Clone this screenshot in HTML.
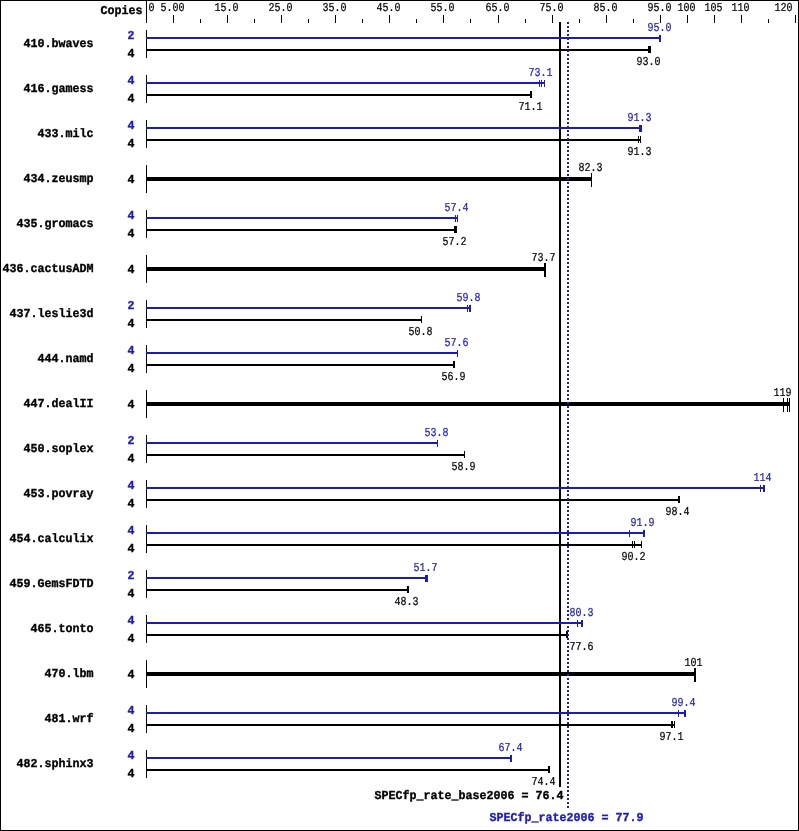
<!DOCTYPE html>
<html><head><meta charset="utf-8"><title>SPECfp_rate2006 chart</title>
<style>
html,body{margin:0;padding:0;background:#fff;width:799px;height:831px;overflow:hidden}
svg{display:block;will-change:transform}
text{font-family:"Liberation Mono",monospace;font-size:12.15px;white-space:pre;text-rendering:geometricPrecision}
.b{font-weight:bold}
</style></head><body>
<svg width="799" height="831" viewBox="0 0 799 831">
<rect width="799" height="831" fill="#fff"/>
<path shape-rendering="crispEdges" fill="#000" d="M0 0h799v1h-799zM0 830h799v1h-799zM0 0h1v831h-1zM798 0h1v831h-1zM146 0h1v23h-1zM173 15h1v8h-1zM200 19h1v4h-1zM227 15h1v8h-1zM254 19h1v4h-1zM281 15h1v8h-1zM308 19h1v4h-1zM335 15h1v8h-1zM362 19h1v4h-1zM389 15h1v8h-1zM416 19h1v4h-1zM443 15h1v8h-1zM470 19h1v4h-1zM498 15h1v8h-1zM525 19h1v4h-1zM552 15h1v8h-1zM579 19h1v4h-1zM606 15h1v8h-1zM633 19h1v4h-1zM660 15h1v8h-1zM687 15h1v8h-1zM714 15h1v8h-1zM741 15h1v8h-1zM768 19h1v4h-1zM795 15h1v8h-1zM146 30h1v28h-1zM146 49h505v2h-505zM648 46h1v7h-1zM649 46h1v7h-1zM650 46h1v7h-1zM146 75h1v28h-1zM146 94h386v2h-386zM530 91h1v7h-1zM531 91h1v7h-1zM146 120h1v28h-1zM146 139h495v2h-495zM638 136h1v7h-1zM640 136h1v7h-1zM146 165h1v28h-1zM146 177h446v4h-446zM591 173h1v14h-1zM146 210h1v28h-1zM146 229h311v2h-311zM454 226h1v7h-1zM455 226h1v7h-1zM456 226h1v7h-1zM146 255h1v28h-1zM146 267h400v4h-400zM544 263h1v14h-1zM545 263h1v14h-1zM146 300h1v28h-1zM146 319h276v2h-276zM421 316h1v7h-1zM146 345h1v28h-1zM146 364h309v2h-309zM453 361h1v7h-1zM454 361h1v7h-1zM146 390h1v28h-1zM146 402h644v4h-644zM783 398h1v14h-1zM787 398h1v14h-1zM789 398h1v14h-1zM146 435h1v28h-1zM146 454h319v2h-319zM464 451h1v7h-1zM146 480h1v28h-1zM146 499h534v2h-534zM678 496h1v7h-1zM679 496h1v7h-1zM146 525h1v28h-1zM146 544h496v2h-496zM632 541h1v7h-1zM634 541h1v7h-1zM641 541h1v7h-1zM146 570h1v28h-1zM146 589h263v2h-263zM407 586h1v7h-1zM408 586h1v7h-1zM146 615h1v28h-1zM146 634h422v2h-422zM566 631h1v7h-1zM567 631h1v7h-1zM146 660h1v28h-1zM146 672h550v4h-550zM694 668h1v14h-1zM695 668h1v14h-1zM146 705h1v28h-1zM146 724h529v2h-529zM671 721h1v7h-1zM672 721h1v7h-1zM674 721h1v7h-1zM146 750h1v28h-1zM146 769h404v2h-404zM548 766h1v7h-1zM549 766h1v7h-1zM559 22h2v765h-2z"/>
<path shape-rendering="crispEdges" fill="#1c1cb0" d="M146 37h515v2h-515zM659 35h1v7h-1zM660 35h1v7h-1zM146 82h399v2h-399zM539 80h1v7h-1zM541 80h1v7h-1zM544 80h1v7h-1zM146 127h496v2h-496zM639 125h1v7h-1zM640 125h1v7h-1zM641 125h1v7h-1zM146 217h312v2h-312zM455 215h1v7h-1zM457 215h1v7h-1zM146 307h325v2h-325zM467 305h1v7h-1zM469 305h1v7h-1zM470 305h1v7h-1zM146 352h312v2h-312zM457 350h1v7h-1zM146 442h292v2h-292zM437 440h1v7h-1zM146 487h619v2h-619zM760 485h1v7h-1zM763 485h1v7h-1zM764 485h1v7h-1zM146 532h499v2h-499zM629 530h1v7h-1zM643 530h1v7h-1zM644 530h1v7h-1zM146 577h282v2h-282zM425 575h1v7h-1zM426 575h1v7h-1zM427 575h1v7h-1zM146 622h437v2h-437zM577 620h1v7h-1zM581 620h1v7h-1zM582 620h1v7h-1zM146 712h540v2h-540zM678 710h1v7h-1zM684 710h1v7h-1zM685 710h1v7h-1zM146 757h366v2h-366zM510 755h1v7h-1zM511 755h1v7h-1z"/>
<path shape-rendering="crispEdges" fill="#1c1cb0" d="M567 22h2v2h-2zM567 26h2v2h-2zM567 30h2v2h-2zM567 34h2v2h-2zM567 38h2v2h-2zM567 42h2v2h-2zM567 46h2v2h-2zM567 50h2v2h-2zM567 54h2v2h-2zM567 58h2v2h-2zM567 62h2v2h-2zM567 66h2v2h-2zM567 70h2v2h-2zM567 74h2v2h-2zM567 78h2v2h-2zM567 82h2v2h-2zM567 86h2v2h-2zM567 90h2v2h-2zM567 94h2v2h-2zM567 98h2v2h-2zM567 102h2v2h-2zM567 106h2v2h-2zM567 110h2v2h-2zM567 114h2v2h-2zM567 118h2v2h-2zM567 122h2v2h-2zM567 126h2v2h-2zM567 130h2v2h-2zM567 134h2v2h-2zM567 138h2v2h-2zM567 142h2v2h-2zM567 146h2v2h-2zM567 150h2v2h-2zM567 154h2v2h-2zM567 158h2v2h-2zM567 162h2v2h-2zM567 166h2v2h-2zM567 170h2v2h-2zM567 174h2v2h-2zM567 178h2v2h-2zM567 182h2v2h-2zM567 186h2v2h-2zM567 190h2v2h-2zM567 194h2v2h-2zM567 198h2v2h-2zM567 202h2v2h-2zM567 206h2v2h-2zM567 210h2v2h-2zM567 214h2v2h-2zM567 218h2v2h-2zM567 222h2v2h-2zM567 226h2v2h-2zM567 230h2v2h-2zM567 234h2v2h-2zM567 238h2v2h-2zM567 242h2v2h-2zM567 246h2v2h-2zM567 250h2v2h-2zM567 254h2v2h-2zM567 258h2v2h-2zM567 262h2v2h-2zM567 266h2v2h-2zM567 270h2v2h-2zM567 274h2v2h-2zM567 278h2v2h-2zM567 282h2v2h-2zM567 286h2v2h-2zM567 290h2v2h-2zM567 294h2v2h-2zM567 298h2v2h-2zM567 302h2v2h-2zM567 306h2v2h-2zM567 310h2v2h-2zM567 314h2v2h-2zM567 318h2v2h-2zM567 322h2v2h-2zM567 326h2v2h-2zM567 330h2v2h-2zM567 334h2v2h-2zM567 338h2v2h-2zM567 342h2v2h-2zM567 346h2v2h-2zM567 350h2v2h-2zM567 354h2v2h-2zM567 358h2v2h-2zM567 362h2v2h-2zM567 366h2v2h-2zM567 370h2v2h-2zM567 374h2v2h-2zM567 378h2v2h-2zM567 382h2v2h-2zM567 386h2v2h-2zM567 390h2v2h-2zM567 394h2v2h-2zM567 398h2v2h-2zM567 402h2v2h-2zM567 406h2v2h-2zM567 410h2v2h-2zM567 414h2v2h-2zM567 418h2v2h-2zM567 422h2v2h-2zM567 426h2v2h-2zM567 430h2v2h-2zM567 434h2v2h-2zM567 438h2v2h-2zM567 442h2v2h-2zM567 446h2v2h-2zM567 450h2v2h-2zM567 454h2v2h-2zM567 458h2v2h-2zM567 462h2v2h-2zM567 466h2v2h-2zM567 470h2v2h-2zM567 474h2v2h-2zM567 478h2v2h-2zM567 482h2v2h-2zM567 486h2v2h-2zM567 490h2v2h-2zM567 494h2v2h-2zM567 498h2v2h-2zM567 502h2v2h-2zM567 506h2v2h-2zM567 510h2v2h-2zM567 514h2v2h-2zM567 518h2v2h-2zM567 522h2v2h-2zM567 526h2v2h-2zM567 530h2v2h-2zM567 534h2v2h-2zM567 538h2v2h-2zM567 542h2v2h-2zM567 546h2v2h-2zM567 550h2v2h-2zM567 554h2v2h-2zM567 558h2v2h-2zM567 562h2v2h-2zM567 566h2v2h-2zM567 570h2v2h-2zM567 574h2v2h-2zM567 578h2v2h-2zM567 582h2v2h-2zM567 586h2v2h-2zM567 590h2v2h-2zM567 594h2v2h-2zM567 598h2v2h-2zM567 602h2v2h-2zM567 606h2v2h-2zM567 610h2v2h-2zM567 614h2v2h-2zM567 618h2v2h-2zM567 622h2v2h-2zM567 626h2v2h-2zM567 630h2v2h-2zM567 634h2v2h-2zM567 638h2v2h-2zM567 642h2v2h-2zM567 646h2v2h-2zM567 650h2v2h-2zM567 654h2v2h-2zM567 658h2v2h-2zM567 662h2v2h-2zM567 666h2v2h-2zM567 670h2v2h-2zM567 674h2v2h-2zM567 678h2v2h-2zM567 682h2v2h-2zM567 686h2v2h-2zM567 690h2v2h-2zM567 694h2v2h-2zM567 698h2v2h-2zM567 702h2v2h-2zM567 706h2v2h-2zM567 710h2v2h-2zM567 714h2v2h-2zM567 718h2v2h-2zM567 722h2v2h-2zM567 726h2v2h-2zM567 730h2v2h-2zM567 734h2v2h-2zM567 738h2v2h-2zM567 742h2v2h-2zM567 746h2v2h-2zM567 750h2v2h-2zM567 754h2v2h-2zM567 758h2v2h-2zM567 762h2v2h-2zM567 766h2v2h-2zM567 770h2v2h-2zM567 774h2v2h-2zM567 778h2v2h-2zM567 782h2v2h-2zM567 786h2v2h-2zM567 790h2v2h-2zM567 794h2v2h-2zM567 798h2v2h-2zM567 802h2v2h-2zM567 806h2v2h-2z"/>
<text x="148.60" y="11" textLength="6" lengthAdjust="spacingAndGlyphs" stroke="#000" stroke-width="0.22">0</text>
<text x="160.60" y="11" textLength="24" lengthAdjust="spacingAndGlyphs" stroke="#000" stroke-width="0.22">5.00</text>
<text x="214.60" y="11" textLength="24" lengthAdjust="spacingAndGlyphs" stroke="#000" stroke-width="0.22">15.0</text>
<text x="268.60" y="11" textLength="24" lengthAdjust="spacingAndGlyphs" stroke="#000" stroke-width="0.22">25.0</text>
<text x="322.60" y="11" textLength="24" lengthAdjust="spacingAndGlyphs" stroke="#000" stroke-width="0.22">35.0</text>
<text x="376.60" y="11" textLength="24" lengthAdjust="spacingAndGlyphs" stroke="#000" stroke-width="0.22">45.0</text>
<text x="430.60" y="11" textLength="24" lengthAdjust="spacingAndGlyphs" stroke="#000" stroke-width="0.22">55.0</text>
<text x="485.60" y="11" textLength="24" lengthAdjust="spacingAndGlyphs" stroke="#000" stroke-width="0.22">65.0</text>
<text x="539.60" y="11" textLength="24" lengthAdjust="spacingAndGlyphs" stroke="#000" stroke-width="0.22">75.0</text>
<text x="593.60" y="11" textLength="24" lengthAdjust="spacingAndGlyphs" stroke="#000" stroke-width="0.22">85.0</text>
<text x="647.60" y="11" textLength="24" lengthAdjust="spacingAndGlyphs" stroke="#000" stroke-width="0.22">95.0</text>
<text x="677.60" y="11" textLength="18" lengthAdjust="spacingAndGlyphs" stroke="#000" stroke-width="0.22">100</text>
<text x="704.60" y="11" textLength="18" lengthAdjust="spacingAndGlyphs" stroke="#000" stroke-width="0.22">105</text>
<text x="731.60" y="11" textLength="18" lengthAdjust="spacingAndGlyphs" stroke="#000" stroke-width="0.22">110</text>
<text x="774.60" y="11" textLength="18" lengthAdjust="spacingAndGlyphs" stroke="#000" stroke-width="0.22">120</text>
<text x="100.60" y="14" textLength="42" lengthAdjust="spacingAndGlyphs" class="b" stroke="#000" stroke-width="0.35">Copies</text>
<text x="23.60" y="47" textLength="70" lengthAdjust="spacingAndGlyphs" class="b" stroke="#000" stroke-width="0.35">410.bwaves</text>
<text x="647.60" y="31" textLength="24" lengthAdjust="spacingAndGlyphs" fill="#1c1cb0" stroke="#1c1cb0" stroke-width="0.22">95.0</text>
<text x="127.60" y="39" textLength="7" lengthAdjust="spacingAndGlyphs" class="b" fill="#1c1cb0" stroke="#1c1cb0" stroke-width="0.35">2</text>
<text x="636.60" y="65" textLength="24" lengthAdjust="spacingAndGlyphs" stroke="#000" stroke-width="0.22">93.0</text>
<text x="127.60" y="57" textLength="7" lengthAdjust="spacingAndGlyphs" class="b" stroke="#000" stroke-width="0.35">4</text>
<text x="23.60" y="92" textLength="70" lengthAdjust="spacingAndGlyphs" class="b" stroke="#000" stroke-width="0.35">416.gamess</text>
<text x="528.60" y="76" textLength="24" lengthAdjust="spacingAndGlyphs" fill="#1c1cb0" stroke="#1c1cb0" stroke-width="0.22">73.1</text>
<text x="127.60" y="84" textLength="7" lengthAdjust="spacingAndGlyphs" class="b" fill="#1c1cb0" stroke="#1c1cb0" stroke-width="0.35">4</text>
<text x="518.60" y="110" textLength="24" lengthAdjust="spacingAndGlyphs" stroke="#000" stroke-width="0.22">71.1</text>
<text x="127.60" y="102" textLength="7" lengthAdjust="spacingAndGlyphs" class="b" stroke="#000" stroke-width="0.35">4</text>
<text x="37.60" y="137" textLength="56" lengthAdjust="spacingAndGlyphs" class="b" stroke="#000" stroke-width="0.35">433.milc</text>
<text x="627.60" y="121" textLength="24" lengthAdjust="spacingAndGlyphs" fill="#1c1cb0" stroke="#1c1cb0" stroke-width="0.22">91.3</text>
<text x="127.60" y="129" textLength="7" lengthAdjust="spacingAndGlyphs" class="b" fill="#1c1cb0" stroke="#1c1cb0" stroke-width="0.35">4</text>
<text x="627.60" y="155" textLength="24" lengthAdjust="spacingAndGlyphs" stroke="#000" stroke-width="0.22">91.3</text>
<text x="127.60" y="147" textLength="7" lengthAdjust="spacingAndGlyphs" class="b" stroke="#000" stroke-width="0.35">4</text>
<text x="23.60" y="182" textLength="70" lengthAdjust="spacingAndGlyphs" class="b" stroke="#000" stroke-width="0.35">434.zeusmp</text>
<text x="578.60" y="171" textLength="24" lengthAdjust="spacingAndGlyphs" stroke="#000" stroke-width="0.22">82.3</text>
<text x="127.60" y="183" textLength="7" lengthAdjust="spacingAndGlyphs" class="b" stroke="#000" stroke-width="0.35">4</text>
<text x="16.60" y="227" textLength="77" lengthAdjust="spacingAndGlyphs" class="b" stroke="#000" stroke-width="0.35">435.gromacs</text>
<text x="444.60" y="211" textLength="24" lengthAdjust="spacingAndGlyphs" fill="#1c1cb0" stroke="#1c1cb0" stroke-width="0.22">57.4</text>
<text x="127.60" y="219" textLength="7" lengthAdjust="spacingAndGlyphs" class="b" fill="#1c1cb0" stroke="#1c1cb0" stroke-width="0.35">4</text>
<text x="442.60" y="245" textLength="24" lengthAdjust="spacingAndGlyphs" stroke="#000" stroke-width="0.22">57.2</text>
<text x="127.60" y="237" textLength="7" lengthAdjust="spacingAndGlyphs" class="b" stroke="#000" stroke-width="0.35">4</text>
<text x="2.60" y="272" textLength="91" lengthAdjust="spacingAndGlyphs" class="b" stroke="#000" stroke-width="0.35">436.cactusADM</text>
<text x="531.60" y="261" textLength="24" lengthAdjust="spacingAndGlyphs" stroke="#000" stroke-width="0.22">73.7</text>
<text x="127.60" y="273" textLength="7" lengthAdjust="spacingAndGlyphs" class="b" stroke="#000" stroke-width="0.35">4</text>
<text x="9.60" y="317" textLength="84" lengthAdjust="spacingAndGlyphs" class="b" stroke="#000" stroke-width="0.35">437.leslie3d</text>
<text x="456.60" y="301" textLength="24" lengthAdjust="spacingAndGlyphs" fill="#1c1cb0" stroke="#1c1cb0" stroke-width="0.22">59.8</text>
<text x="127.60" y="309" textLength="7" lengthAdjust="spacingAndGlyphs" class="b" fill="#1c1cb0" stroke="#1c1cb0" stroke-width="0.35">2</text>
<text x="408.60" y="335" textLength="24" lengthAdjust="spacingAndGlyphs" stroke="#000" stroke-width="0.22">50.8</text>
<text x="127.60" y="327" textLength="7" lengthAdjust="spacingAndGlyphs" class="b" stroke="#000" stroke-width="0.35">4</text>
<text x="37.60" y="362" textLength="56" lengthAdjust="spacingAndGlyphs" class="b" stroke="#000" stroke-width="0.35">444.namd</text>
<text x="444.60" y="346" textLength="24" lengthAdjust="spacingAndGlyphs" fill="#1c1cb0" stroke="#1c1cb0" stroke-width="0.22">57.6</text>
<text x="127.60" y="354" textLength="7" lengthAdjust="spacingAndGlyphs" class="b" fill="#1c1cb0" stroke="#1c1cb0" stroke-width="0.35">4</text>
<text x="441.60" y="380" textLength="24" lengthAdjust="spacingAndGlyphs" stroke="#000" stroke-width="0.22">56.9</text>
<text x="127.60" y="372" textLength="7" lengthAdjust="spacingAndGlyphs" class="b" stroke="#000" stroke-width="0.35">4</text>
<text x="23.60" y="407" textLength="70" lengthAdjust="spacingAndGlyphs" class="b" stroke="#000" stroke-width="0.35">447.dealII</text>
<text x="773.60" y="396" textLength="18" lengthAdjust="spacingAndGlyphs" stroke="#000" stroke-width="0.22">119</text>
<text x="127.60" y="408" textLength="7" lengthAdjust="spacingAndGlyphs" class="b" stroke="#000" stroke-width="0.35">4</text>
<text x="23.60" y="452" textLength="70" lengthAdjust="spacingAndGlyphs" class="b" stroke="#000" stroke-width="0.35">450.soplex</text>
<text x="424.60" y="436" textLength="24" lengthAdjust="spacingAndGlyphs" fill="#1c1cb0" stroke="#1c1cb0" stroke-width="0.22">53.8</text>
<text x="127.60" y="444" textLength="7" lengthAdjust="spacingAndGlyphs" class="b" fill="#1c1cb0" stroke="#1c1cb0" stroke-width="0.35">2</text>
<text x="451.60" y="470" textLength="24" lengthAdjust="spacingAndGlyphs" stroke="#000" stroke-width="0.22">58.9</text>
<text x="127.60" y="462" textLength="7" lengthAdjust="spacingAndGlyphs" class="b" stroke="#000" stroke-width="0.35">4</text>
<text x="23.60" y="497" textLength="70" lengthAdjust="spacingAndGlyphs" class="b" stroke="#000" stroke-width="0.35">453.povray</text>
<text x="753.60" y="481" textLength="18" lengthAdjust="spacingAndGlyphs" fill="#1c1cb0" stroke="#1c1cb0" stroke-width="0.22">114</text>
<text x="127.60" y="489" textLength="7" lengthAdjust="spacingAndGlyphs" class="b" fill="#1c1cb0" stroke="#1c1cb0" stroke-width="0.35">4</text>
<text x="665.60" y="515" textLength="24" lengthAdjust="spacingAndGlyphs" stroke="#000" stroke-width="0.22">98.4</text>
<text x="127.60" y="507" textLength="7" lengthAdjust="spacingAndGlyphs" class="b" stroke="#000" stroke-width="0.35">4</text>
<text x="9.60" y="542" textLength="84" lengthAdjust="spacingAndGlyphs" class="b" stroke="#000" stroke-width="0.35">454.calculix</text>
<text x="630.60" y="526" textLength="24" lengthAdjust="spacingAndGlyphs" fill="#1c1cb0" stroke="#1c1cb0" stroke-width="0.22">91.9</text>
<text x="127.60" y="534" textLength="7" lengthAdjust="spacingAndGlyphs" class="b" fill="#1c1cb0" stroke="#1c1cb0" stroke-width="0.35">4</text>
<text x="621.60" y="560" textLength="24" lengthAdjust="spacingAndGlyphs" stroke="#000" stroke-width="0.22">90.2</text>
<text x="127.60" y="552" textLength="7" lengthAdjust="spacingAndGlyphs" class="b" stroke="#000" stroke-width="0.35">4</text>
<text x="9.60" y="587" textLength="84" lengthAdjust="spacingAndGlyphs" class="b" stroke="#000" stroke-width="0.35">459.GemsFDTD</text>
<text x="413.60" y="571" textLength="24" lengthAdjust="spacingAndGlyphs" fill="#1c1cb0" stroke="#1c1cb0" stroke-width="0.22">51.7</text>
<text x="127.60" y="579" textLength="7" lengthAdjust="spacingAndGlyphs" class="b" fill="#1c1cb0" stroke="#1c1cb0" stroke-width="0.35">2</text>
<text x="394.60" y="605" textLength="24" lengthAdjust="spacingAndGlyphs" stroke="#000" stroke-width="0.22">48.3</text>
<text x="127.60" y="597" textLength="7" lengthAdjust="spacingAndGlyphs" class="b" stroke="#000" stroke-width="0.35">4</text>
<text x="30.60" y="632" textLength="63" lengthAdjust="spacingAndGlyphs" class="b" stroke="#000" stroke-width="0.35">465.tonto</text>
<text x="569.60" y="616" textLength="24" lengthAdjust="spacingAndGlyphs" fill="#1c1cb0" stroke="#1c1cb0" stroke-width="0.22">80.3</text>
<text x="127.60" y="624" textLength="7" lengthAdjust="spacingAndGlyphs" class="b" fill="#1c1cb0" stroke="#1c1cb0" stroke-width="0.35">4</text>
<text x="569.60" y="650" textLength="24" lengthAdjust="spacingAndGlyphs" stroke="#000" stroke-width="0.22">77.6</text>
<text x="127.60" y="642" textLength="7" lengthAdjust="spacingAndGlyphs" class="b" stroke="#000" stroke-width="0.35">4</text>
<text x="44.60" y="677" textLength="49" lengthAdjust="spacingAndGlyphs" class="b" stroke="#000" stroke-width="0.35">470.lbm</text>
<text x="684.60" y="666" textLength="18" lengthAdjust="spacingAndGlyphs" stroke="#000" stroke-width="0.22">101</text>
<text x="127.60" y="678" textLength="7" lengthAdjust="spacingAndGlyphs" class="b" stroke="#000" stroke-width="0.35">4</text>
<text x="44.60" y="722" textLength="49" lengthAdjust="spacingAndGlyphs" class="b" stroke="#000" stroke-width="0.35">481.wrf</text>
<text x="671.60" y="706" textLength="24" lengthAdjust="spacingAndGlyphs" fill="#1c1cb0" stroke="#1c1cb0" stroke-width="0.22">99.4</text>
<text x="127.60" y="714" textLength="7" lengthAdjust="spacingAndGlyphs" class="b" fill="#1c1cb0" stroke="#1c1cb0" stroke-width="0.35">4</text>
<text x="659.60" y="740" textLength="24" lengthAdjust="spacingAndGlyphs" stroke="#000" stroke-width="0.22">97.1</text>
<text x="127.60" y="732" textLength="7" lengthAdjust="spacingAndGlyphs" class="b" stroke="#000" stroke-width="0.35">4</text>
<text x="16.60" y="767" textLength="77" lengthAdjust="spacingAndGlyphs" class="b" stroke="#000" stroke-width="0.35">482.sphinx3</text>
<text x="498.60" y="751" textLength="24" lengthAdjust="spacingAndGlyphs" fill="#1c1cb0" stroke="#1c1cb0" stroke-width="0.22">67.4</text>
<text x="127.60" y="759" textLength="7" lengthAdjust="spacingAndGlyphs" class="b" fill="#1c1cb0" stroke="#1c1cb0" stroke-width="0.35">4</text>
<text x="531.60" y="785" textLength="24" lengthAdjust="spacingAndGlyphs" stroke="#000" stroke-width="0.22">74.4</text>
<text x="127.60" y="777" textLength="7" lengthAdjust="spacingAndGlyphs" class="b" stroke="#000" stroke-width="0.35">4</text>
<text x="374.60" y="799" textLength="189" lengthAdjust="spacingAndGlyphs" class="b" stroke="#000" stroke-width="0.35">SPECfp_rate_base2006 = 76.4</text>
<text x="489.60" y="821" textLength="154" lengthAdjust="spacingAndGlyphs" class="b" fill="#1c1cb0" stroke="#1c1cb0" stroke-width="0.35">SPECfp_rate2006 = 77.9</text>
</svg>
</body></html>
